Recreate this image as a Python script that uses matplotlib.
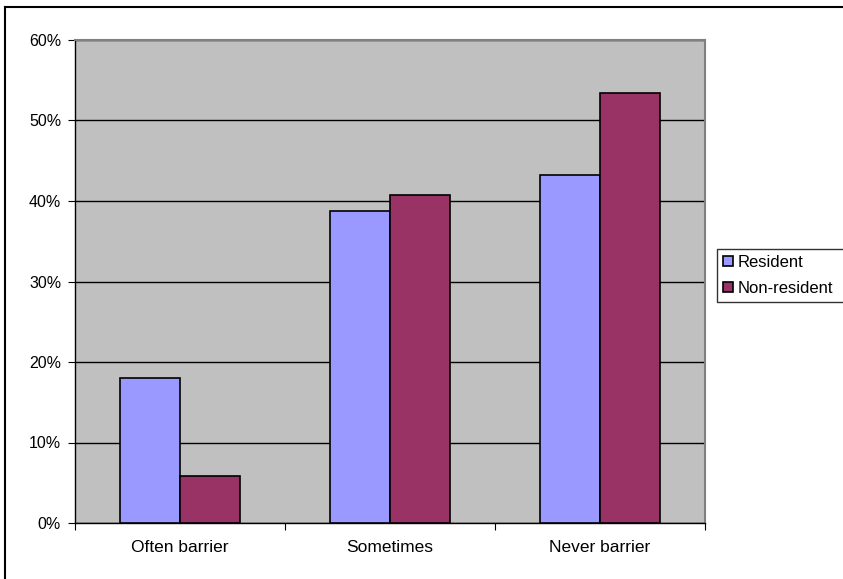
import numpy as np
import matplotlib.pyplot as plt
from matplotlib.lines import Line2D
from matplotlib.ticker import PercentFormatter

plt.rcParams['font.family'] = ['Liberation Sans', 'DejaVu Sans']

# Données
categories = ["Often barrier", "Sometimes", "Never barrier"]
resident = [18.0, 38.8, 43.2]
non_resident = [5.8, 40.8, 53.4]
series_names = ["Resident", "Non-resident"]
y_ticks = [0, 10, 20, 30, 40, 50, 60]

W, H = 843, 579
fig = plt.figure(figsize=(W / 100, H / 100), dpi=100)
ax = fig.add_axes([75 / W, (H - 523) / H, 630 / W, (523 - 40) / H])

# cadre extérieur (haut et gauche seulement visibles)
fig.add_artist(Line2D([5 / W, 1.0], [1 - 7 / H, 1 - 7 / H], color="black", lw=1.5))
fig.add_artist(Line2D([5 / W, 5 / W], [0.0, 1 - 7 / H], color="black", lw=1.5))

x = np.arange(len(categories))
bw = 1 / 3.5  # gap width 150%
ax.set_facecolor("#C0C0C0")
ax.bar(x - bw / 2, resident, bw, color="#9999FF", edgecolor="black", lw=1.2,
       label=series_names[0], zorder=3)
ax.bar(x + bw / 2, non_resident, bw, color="#993366", edgecolor="black", lw=1.2,
       label=series_names[1], zorder=3)

ax.set_xlim(-0.5, len(categories) - 0.5)
ax.set_ylim(0, 60)
ax.set_yticks(y_ticks)
ax.yaxis.set_major_formatter(PercentFormatter(decimals=0))
ax.yaxis.grid(True, color="black", lw=1, zorder=1)

ax.set_xticks(np.arange(-0.5, len(categories)), minor=False)
ax.set_xticklabels([])
ax.set_xticks(x, minor=True)
ax.set_xticklabels(categories, minor=True, fontsize=12.5)
ax.tick_params(axis="x", which="minor", length=0, pad=12)
ax.tick_params(axis="x", which="major", length=5, direction="out")
ax.tick_params(axis="y", length=5, direction="out", labelsize=11.5, pad=5)

for side in ["top", "right"]:
    ax.spines[side].set_color("#808080")
    ax.spines[side].set_linewidth(1.5)
for side in ["left", "bottom"]:
    ax.spines[side].set_color("black")
    ax.spines[side].set_linewidth(1)

leg = ax.legend(loc="upper left", bbox_to_anchor=(717 / W, 1 - 311 / H, 140 / W, 62 / H),
                bbox_transform=fig.transFigure, mode="expand", fancybox=False,
                frameon=True, edgecolor="black", fontsize=12, handlelength=0.6,
                handleheight=0.6, handletextpad=0.3, borderaxespad=0, borderpad=0.35,
                labelspacing=0.65)
leg.get_frame().set_linewidth(1)

fig.savefig("out.png", dpi=100)
